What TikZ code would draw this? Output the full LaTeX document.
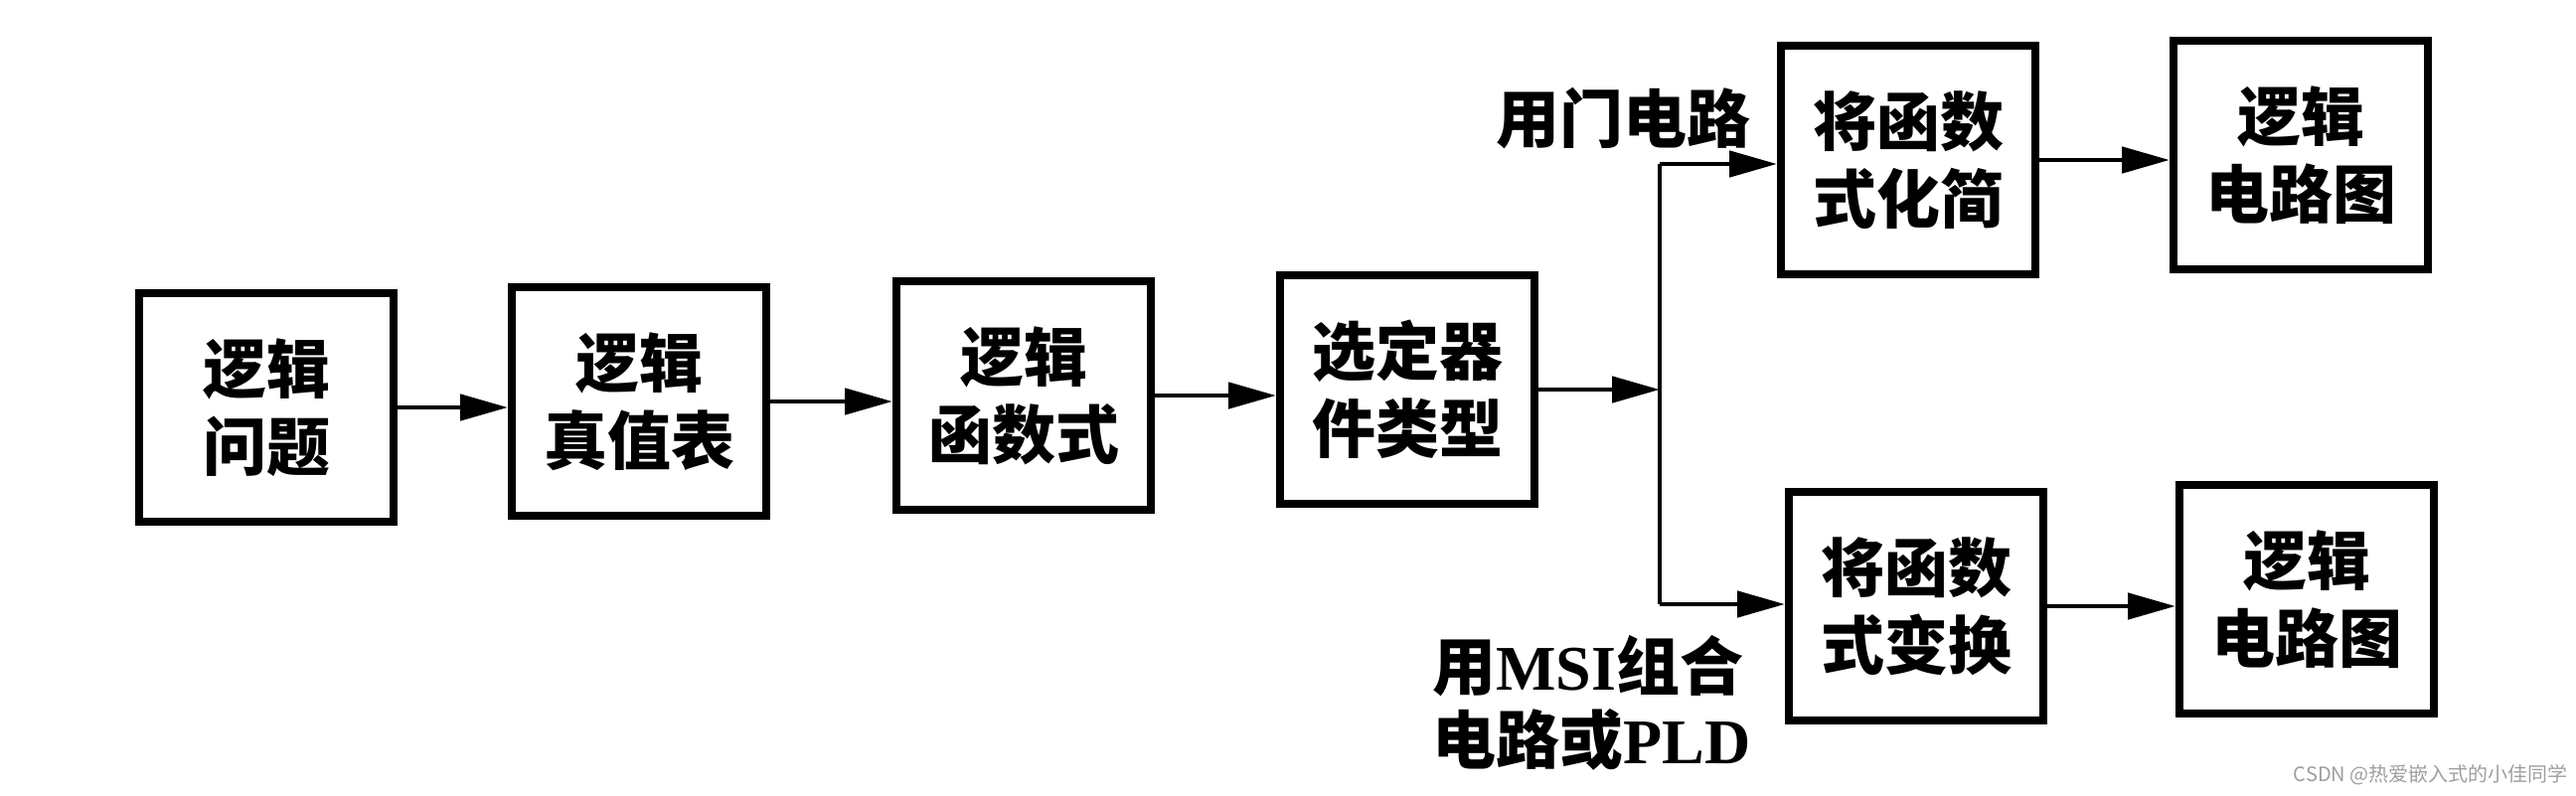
\documentclass[tikz,border=0pt]{standalone}
\usepackage{fontspec}
\setmainfont{Liberation Serif}
\newfontfamily\cjk{Noto Sans CJK SC}
\newfontfamily\lat{Liberation Serif}
\usetikzlibrary{arrows.meta}
\begin{document}
\begin{tikzpicture}[x=0.5pt,y=-0.5pt,
  box/.style={draw, line width=4pt, minimum width=128pt, minimum height=115pt,
    align=center, inner sep=0pt, font=\cjk\bfseries\fontsize{32}{39}\selectfont},
  conn/.style={line width=2.4pt, -{Triangle[length=24pt,width=13pt]}},
  wire/.style={line width=2.4pt},
  lbl/.style={font=\cjk\bfseries\fontsize{32}{37}\selectfont, inner sep=0pt, align=left}]
\useasboundingbox (0,0) rectangle (2592,800);
\fill[white] (0,0) rectangle (2592,800);

\node[box] (b1) at (268,410) {逻辑\\问题};
\node[box] (b2) at (643,404) {逻辑\\真值表};
\node[box] (b3) at (1030,398) {逻辑\\函数式};
\node[box] (b4) at (1416,392) {选定器\\件类型};
\node[box] (b5) at (1920,161) {将函数\\式化简};
\node[box] (b6) at (2315,156) {逻辑\\电路图};
\node[box] (b7) at (1928,610) {将函数\\式变换};
\node[box] (b8) at (2321,603) {逻辑\\电路图};

\coordinate (br) at (1670,390);
\coordinate (tc) at (1670,165);
\coordinate (bc) at (1670,608);

\draw[conn] (b1.east) -- (b2.west |- b1.east);
\draw[conn] (b2.east) -- (b3.west |- b2.east);
\draw[conn] (b3.east) -- (b4.west |- b3.east);
\draw[conn] (b4.east) -- (br |- b4.east);
\draw[wire] (tc) -- (bc);
\draw[conn] (tc) -- (b5.west |- tc);
\draw[conn] (bc) -- (b7.west |- bc);
\draw[conn] (b5.east) -- (b6.west |- b5.east);
\draw[conn] (b7.east) -- (b8.west |- b7.east);

\node[lbl, anchor=east] (l1) at (1762,119) {用门电路};
\node[lbl, anchor=west] (l2) at (1441,670) {用{\lat\bfseries MSI}组合};
\node[lbl, anchor=west] (l3) at (1441,744) {电路或{\lat\bfseries PLD}};

\node[font=\cjk\fontsize{10}{12}\selectfont, text=gray!75, anchor=east, inner sep=0pt] (wm) at (2584,780) {CSDN @热爱嵌入式的小佳同学};
\end{tikzpicture}
\end{document}
